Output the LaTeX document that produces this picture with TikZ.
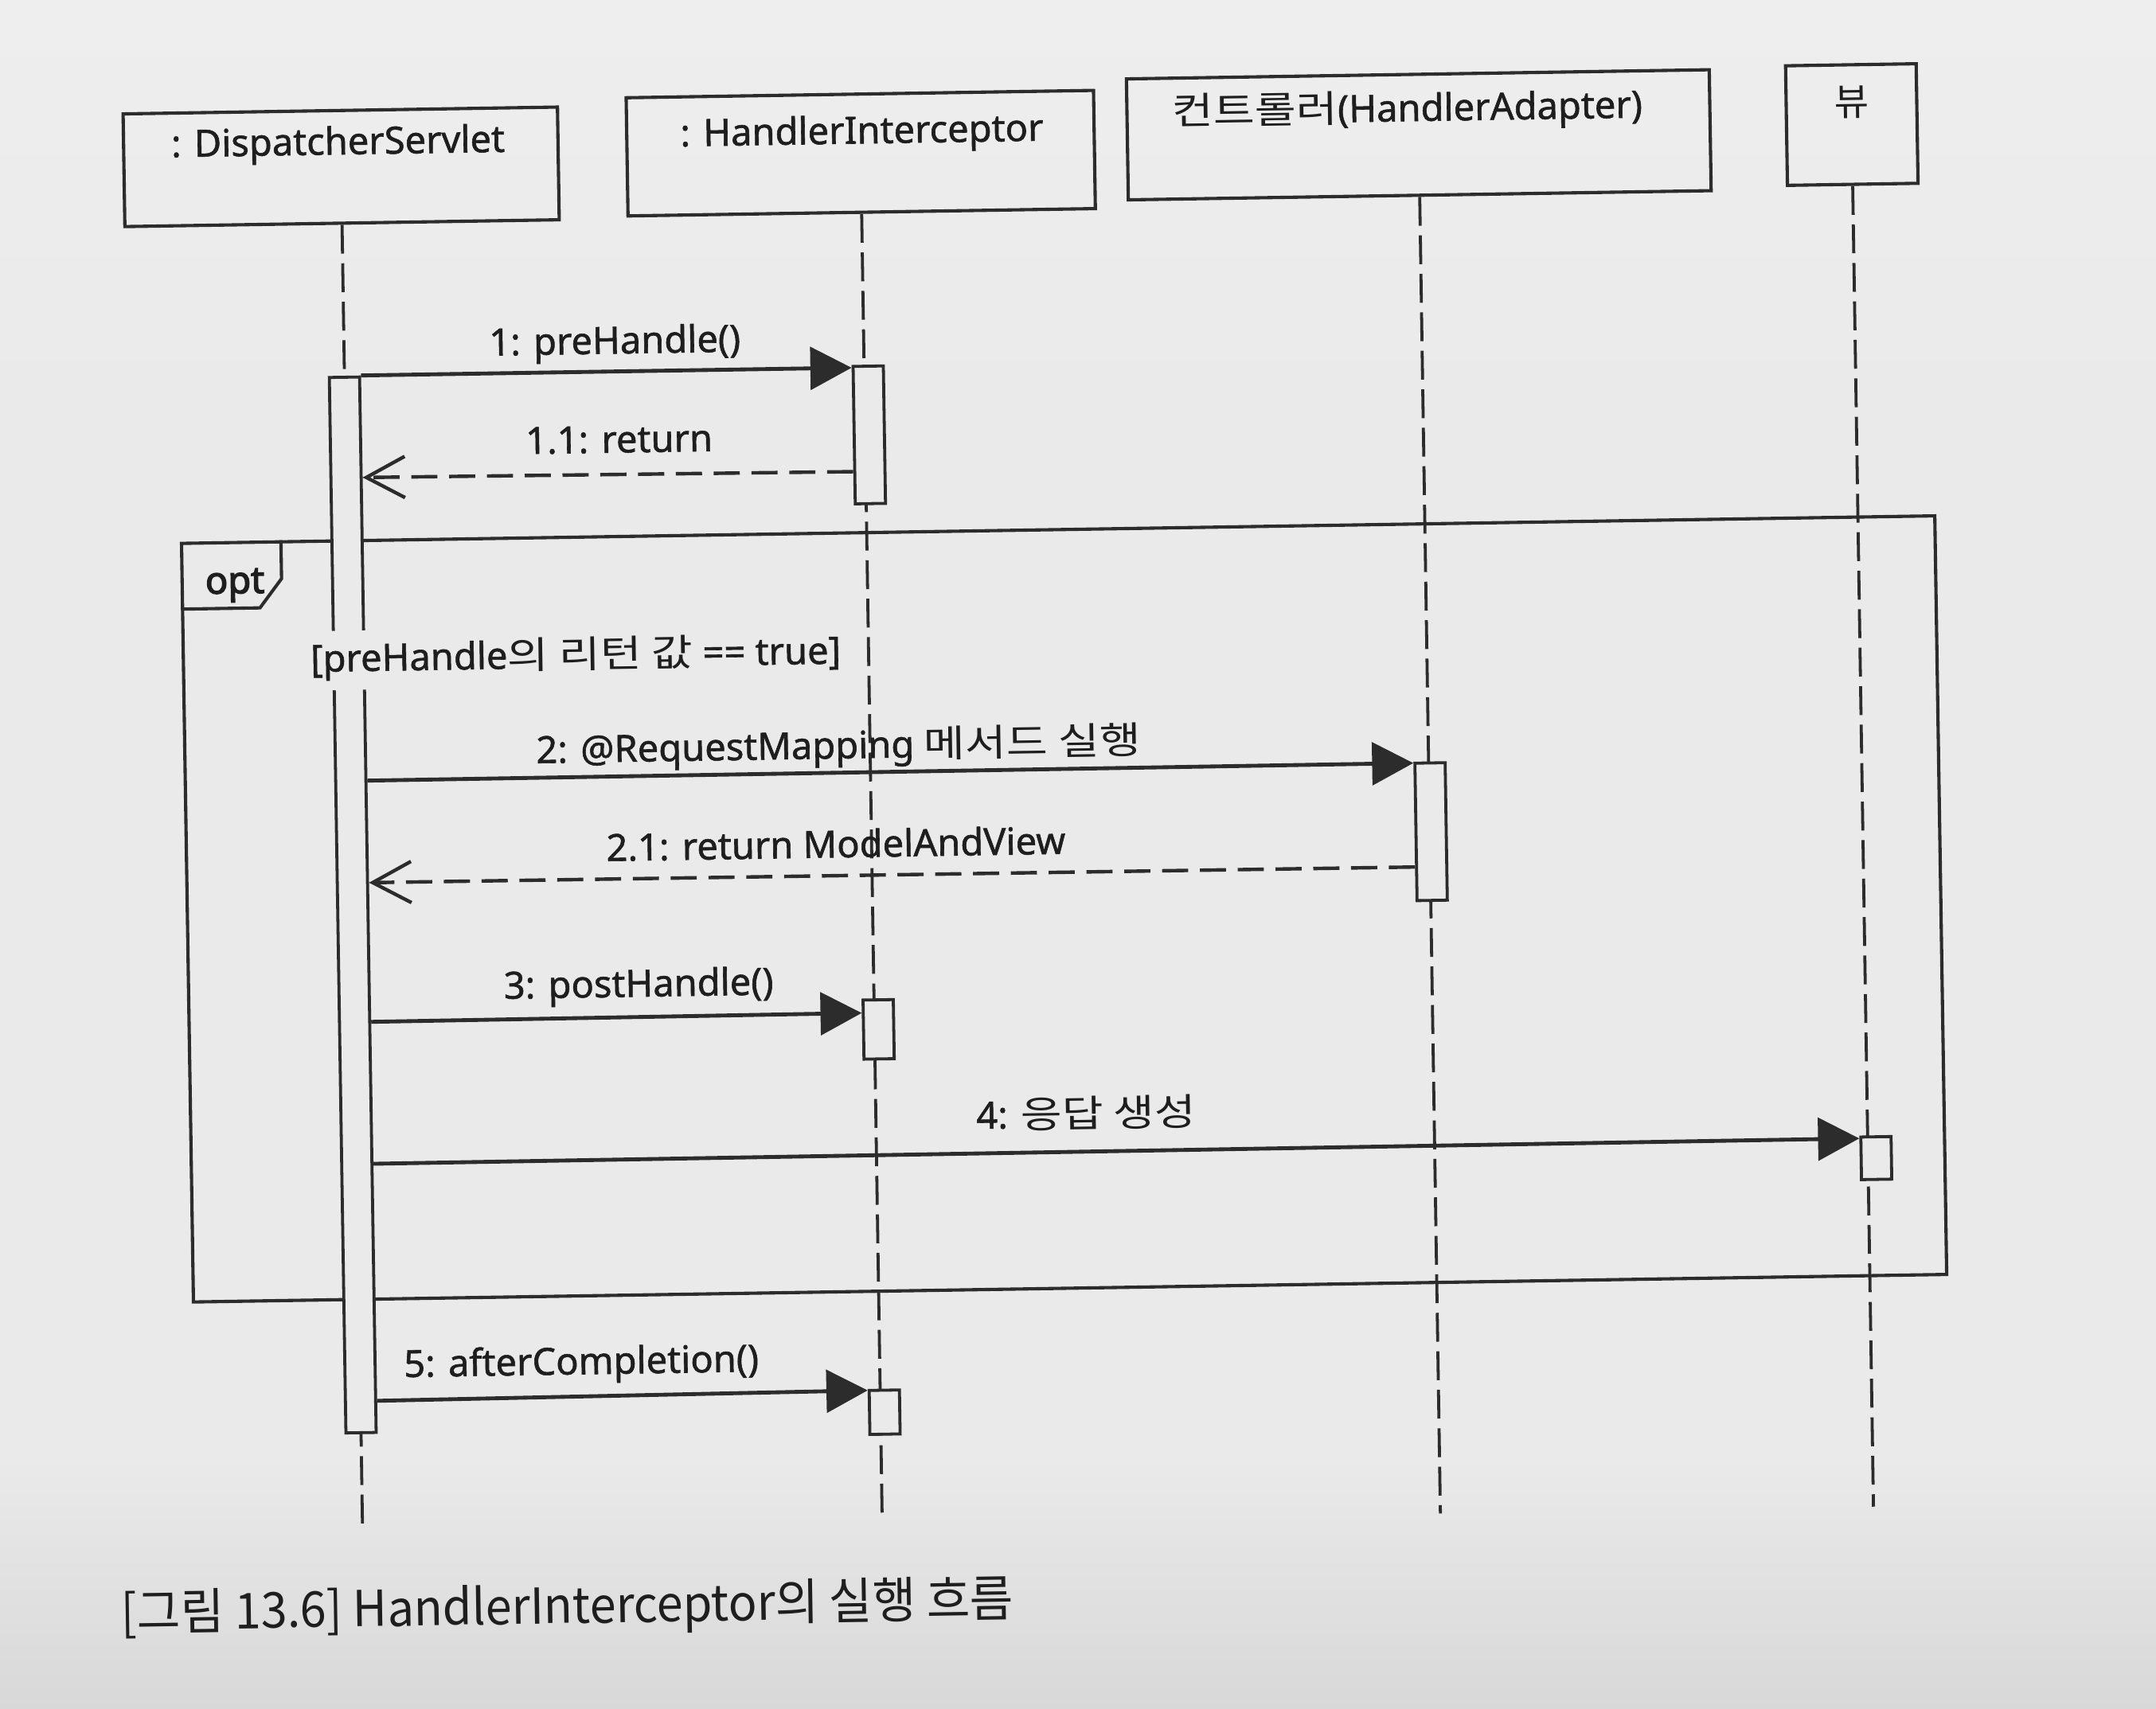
\documentclass[tikz,border=0pt]{standalone}
\usepackage{fontspec}
\usepackage{graphicx}
\setmainfont{Noto Sans}[FakeBold=1.2]
\newfontfamily\kr{Noto Sans CJK KR}
\newfontfamily\optfont{Noto Sans}[FakeBold=3]
\newcommand\hg[1]{\scalebox{1.2}[1]{\kr #1}}
\usetikzlibrary{arrows.meta,calc}
\definecolor{bgtop}{HTML}{EEEEEE}
\definecolor{bgmid}{HTML}{EAEAEA}
\definecolor{bgbot}{HTML}{D8D8D8}
\definecolor{ink}{HTML}{1E1E1E}
\definecolor{linec}{HTML}{2C2C2C}
\begin{document}
\begin{tikzpicture}[x=0.02cm,y=-0.02cm,
  font=\fontsize{15.5}{18}\selectfont,
  objbox/.style={draw=linec,line width=1.35pt,inner sep=0pt},
  boxlabel/.style={anchor=base,text=ink,inner sep=0pt},
  lifeline/.style={draw=linec,line width=1.25pt,dash pattern=on 0.42cm off 0.14cm},
  actbar/.style={draw=linec,fill=bgmid,line width=1.25pt,minimum width=0.44cm,inner sep=0pt},
  callmsg/.style={draw=linec,line width=1.6pt,-{Triangle[length=0.6cm,width=0.62cm]}},
  retmsg/.style={draw=linec,line width=1.45pt,dash pattern=on 0.38cm off 0.17cm,-{Straight Barb[length=0.56cm,width=0.6cm,line width=1.45pt]}},
  msglabel/.style={anchor=base,text=ink,inner sep=0pt},
  framebox/.style={draw=linec,line width=1.35pt,inner sep=0pt},
]
% page background
\fill[bgmid] (0,0) rectangle (1568,1243);
\shade[top color=bgtop,bottom color=bgmid] (0,0) rectangle (1568,300);
\shade[top color=bgmid,bottom color=bgbot] (0,1060) rectangle (1568,1243);
\useasboundingbox (0,0) rectangle (1568,1243);

\begin{scope}[rotate around={0.9:(784,620)},transform shape]
% object boxes
\node[objbox,minimum width=6.32cm,minimum height=1.64cm] (ds) at (256,113) {};
\node[objbox,minimum width=6.8cm,minimum height=1.72cm] (hi) at (634,109) {};
\node[objbox,minimum width=8.48cm,minimum height=1.76cm] (ctrl) at (1040,102) {};
\node[objbox,minimum width=1.9cm,minimum height=1.74cm] (view) at (1355,99.5) {};
\node[boxlabel] (dsl) at (254,104) {: DispatcherServlet};
\node[boxlabel] (hil) at (635,102) {: HandlerInterceptor};
\node[boxlabel] (ctrll) at (1032,92) {\hg{컨트롤러}(HandlerAdapter)};
\node[boxlabel] (viewl) at (1355,93) {\kr 뷰};

% lifeline ends
\coordinate (dsend) at (256,1105);
\coordinate (hiend) at (634,1105);
\coordinate (ctrlend) at (1040,1105);
\coordinate (viewend) at (1355,1105);
\draw[lifeline] (ds.south) -- (dsend);
\draw[lifeline] (hi.south) -- (hiend);
\draw[lifeline] (ctrl.south) -- (ctrlend);
\draw[lifeline] (view.south) -- (viewend);

% opt combined fragment
\node[framebox,minimum width=25.51cm,minimum height=11.04cm] (optframe) at (773.25,661) {};
\draw[linec,line width=1.35pt] (optframe.north west) ++(73.5,0) coordinate (tabr)
  -- ++(0,28) -- ++(-16,21) -- ($(optframe.north west)+(0,49)$);
\node[anchor=base,text=ink,inner sep=0pt,font=\fontsize{15.5}{18}\optfont] (optl) at (174,422) {opt};

% activation bars
\node[actbar,minimum height=15.36cm] (dsbar) at (256,650) {};
\node[actbar,minimum height=2cm] (hib1) at (637,314) {};
\node[actbar,minimum height=0.86cm] (hib3) at (637,746.5) {};
\node[actbar,minimum height=0.64cm] (hib5) at (637,1025) {};
\node[actbar,minimum height=2cm] (ctrlb) at (1041,609) {};
\node[actbar,minimum height=0.62cm] (viewb) at (1361,851.5) {};

% guard
\node[anchor=base,text=ink,fill=bgmid,inner xsep=1pt,inner ysep=4pt] (guard) at (421,480) {[preHandle\hg{의 리턴 값} == true]};

% messages
\draw[callmsg] ($(dsbar.north east)!0!(dsbar.south east)$) -- ($(hib1.north west)!0.02!(hib1.south west)$);
\node[msglabel] (m1l) at (453,252) {1: preHandle()};
\draw[retmsg] ($(hib1.north west)!0.76!(hib1.south west)$) -- ($(dsbar.north east)!0.0964!(dsbar.south east)$);
\node[msglabel] (m11l) at (455,324) {1.1: return};

\draw[callmsg] ($(dsbar.north east)!0.3828!(dsbar.south east)$) -- ($(ctrlb.north west)!0.01!(ctrlb.south west)$);
\node[msglabel] (m2l) at (611,549) {2: @RequestMapping \hg{메서드 실행}};
\draw[retmsg] ($(ctrlb.north west)!0.75!(ctrlb.south west)$) -- ($(dsbar.north east)!0.4792!(dsbar.south east)$);
\node[msglabel] (m21l) at (608,621) {2.1: return ModelAndView};

\draw[callmsg] ($(dsbar.north east)!0.6107!(dsbar.south east)$) -- ($(hib3.north west)!0.2326!(hib3.south west)$);
\node[msglabel] (m3l) at (463,720) {3: postHandle()};

\draw[callmsg] ($(dsbar.north east)!0.7448!(dsbar.south east)$) -- ($(viewb.north west)!0.0645!(viewb.south west)$);
\node[msglabel] (m4l) at (787,820) {4: \hg{응답 생성}};

\draw[callmsg] ($(dsbar.north east)!0.96875!(dsbar.south east)$) -- ($(hib5.north west)!0.03125!(hib5.south west)$);
\node[msglabel] (m5l) at (417,994) {5: afterCompletion()};

% caption
\node[anchor=base west,text=ink,inner sep=0pt] (caption) at (79.4,1175)
  {\resizebox{12.98cm}{\height}{\kr\fontsize{20.5}{24}\selectfont [그림 13.6] HandlerInterceptor의 실행 흐름}};
\end{scope}
\end{tikzpicture}
\end{document}
